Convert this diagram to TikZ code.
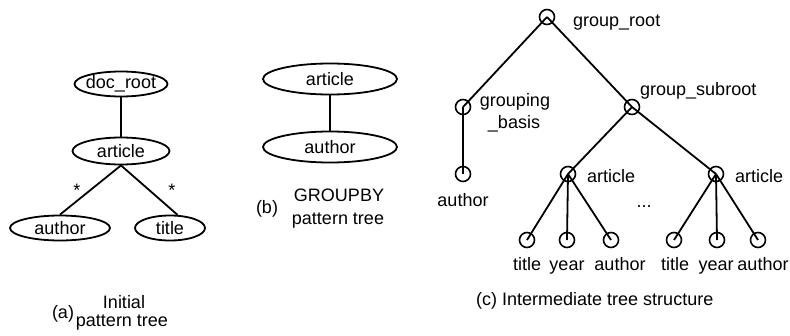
\documentclass[tikz,border=0pt]{standalone}
\usepackage{fontspec}
\setmainfont{Liberation Sans}
\usetikzlibrary{shapes.geometric}
\begin{document}
\begin{tikzpicture}[x=1pt,y=-1pt,
  every node/.style={font=\fontsize{18}{20}\selectfont, inner sep=0pt},
  oval/.style={ellipse, draw, line width=1.8pt},
  knot/.style={circle, draw, line width=1.6pt, minimum size=15pt},
  edge/.style={line width=1.8pt},
  txt/.style={anchor=base}]
\useasboundingbox (0,0) rectangle (790,335);

% (a) initial pattern tree
\node[oval, minimum width=93pt, minimum height=25pt, label=center:doc\_root] (adoc) at (121,84) {};
\node[oval, minimum width=97pt, minimum height=27pt, label=center:article] (aart) at (121,151) {};
\node[oval, minimum width=100pt, minimum height=25pt, label=center:author] (aaut) at (60,228) {};
\node[oval, minimum width=70pt, minimum height=25pt, label=center:title] (atit) at (170,228) {};
\draw[edge] (adoc.south) -- (aart.north);
\draw[edge] (aart.south) -- (aaut.north);
\draw[edge] (aart.south) -- (atit.60);
\node[txt] (astar1) at (77,196) {*};
\node[txt] (astar2) at (172,196) {*};
\node[txt] (acapa) at (63,318) {(a)};
\node[txt] (acap1) at (124,308) {Initial};
\node[txt] (acap2) at (122,326) {pattern tree};

% (b) GROUPBY pattern tree
\node[oval, minimum width=134pt, minimum height=31pt, label=center:article] (bart) at (330,79) {};
\node[oval, minimum width=134pt, minimum height=31pt, label=center:author] (baut) at (330,147) {};
\draw[edge] (bart.south) -- (baut.north);
\node[txt] (bcapb) at (267,213) {(b)};
\node[txt] (bcap1) at (339,201) {GROUPBY};
\node[txt] (bcap2) at (338,224) {pattern tree};

% (c) intermediate tree structure
\node[knot] (croot) at (547,17) {};
\node[knot] (cbasis) at (463,107) {};
\node[knot] (csub) at (632,107) {};
\node[knot] (cauth) at (463,174) {};
\node[knot] (cart1) at (568,174) {};
\node[knot] (cart2) at (716,174) {};
\node[knot] (l1) at (527,240) {};
\node[knot] (l2) at (567,240) {};
\node[knot] (l3) at (611,240) {};
\node[knot] (l4) at (674,240) {};
\node[knot] (l5) at (717,240) {};
\node[knot] (l6) at (758,240) {};

\foreach \a/\b in {croot/cbasis, croot/csub, cbasis/cauth, csub/cart1, csub/cart2,
                   cart1/l1, cart1/l2, cart1/l3, cart2/l4, cart2/l5, cart2/l6}
  \draw[edge] (\a.center) -- (\b.center);

\node[txt, anchor=base west] (troot) at (573,26) {group\_root};
\node[txt] (tbas1) at (515,106) {grouping};
\node[txt] (tbas2) at (514,128) {\_basis};
\node[txt, anchor=base west] (tsub) at (640,95) {group\_subroot};
\node[txt] (tauth) at (463,206) {author};
\node[txt, anchor=base west] (tart1) at (587,182) {article};
\node[txt, anchor=base west] (tart2) at (735,182) {article};
\node[txt] (tdots) at (644,207) {...};
\node[txt] (tl1) at (527,270) {title};
\node[txt] (tl2) at (567,270) {year};
\node[txt] (tl3) at (620,270) {author};
\node[txt] (tl4) at (675,270) {title};
\node[txt] (tl5) at (716,270) {year};
\node[txt] (tl6) at (763,270) {author};
\node[txt, anchor=base west] (ccap) at (476,305) {(c) Intermediate tree structure};
\end{tikzpicture}
\end{document}
